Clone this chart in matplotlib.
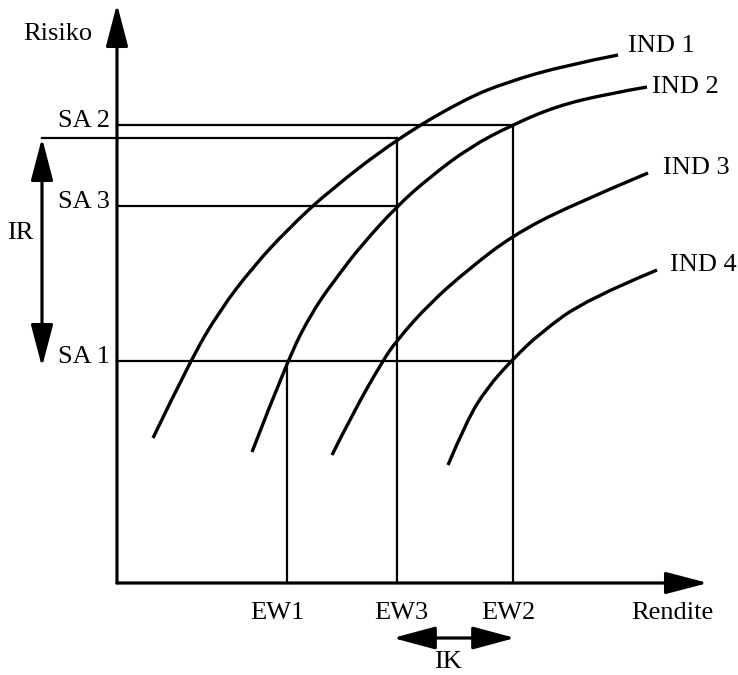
import matplotlib
matplotlib.use("Agg")
import matplotlib.pyplot as plt
from matplotlib.path import Path
from matplotlib.patches import PathPatch
import numpy as np

plt.rcParams['font.family'] = ['Liberation Serif', 'DejaVu Serif']

# Indifference curves (Rendite, Risiko)
ind1_x = [36, 73, 103, 136, 170, 213, 280, 346, 390, 450, 501]
ind1_y = [145, 222, 273, 316, 353, 393, 444, 483, 501, 518, 528]
ind2_x = [135, 170, 196, 223, 243, 280, 313, 353, 395, 440, 490, 530]
ind2_y = [131, 222, 273, 310, 336, 377, 406, 436, 458, 477, 489, 496]
ind3_x = [215, 236, 265, 280, 313, 353, 395, 450, 531]
ind3_y = [128, 170, 221, 243, 280, 315, 347, 376, 410]
ind4_x = [331, 350, 370, 395, 423, 470, 540]
ind4_y = [118, 163, 195, 223, 250, 284, 313]
curve_labels = ["IND 1", "IND 2", "IND 3", "IND 4"]

# expected returns and risk levels
ew_labels = ["EW1", "EW3", "EW2"]
ew_values = [170, 280, 396]
sa_labels = ["SA 1", "SA 3", "SA 2"]
sa_values = [222, 377, 458]
ir_top = 445
x_max = 591
y_max = 579

fig = plt.figure(figsize=(7.38, 6.75), dpi=100)
ax = fig.add_axes([0, 0, 1, 1])
ax.set_xlim(-117, 621)
ax.set_ylim(-92, 583)
ax.axis('off')

k = 'black'
guide_lw = 1.6
curve_lw = 2.4
ax_lw = 2.3
fs = 19


def arrow(p0, p1, style='-|>', hl=2.6, hw=0.68):
    ax.annotate('', xy=p1, xytext=p0,
                arrowprops=dict(arrowstyle=f'{style},head_length={hl},head_width={hw}',
                                mutation_scale=10, lw=ax_lw, color=k,
                                shrinkA=0, shrinkB=0))


def smooth_curve(xs, ys):
    # quadratic spline path: read points act as control points
    pts = np.column_stack([xs, ys]).astype(float)
    verts = [pts[0]]
    codes = [Path.MOVETO]
    for i in range(1, len(pts) - 2):
        verts += [pts[i], (pts[i] + pts[i + 1]) / 2]
        codes += [Path.CURVE3, Path.CURVE3]
    verts += [pts[-2], pts[-1]]
    codes += [Path.CURVE3, Path.CURVE3]
    ax.add_patch(PathPatch(Path(verts, codes), fill=False, lw=curve_lw,
                           edgecolor=k, capstyle='butt'))


# axes
arrow((0, 0), (0, y_max))
arrow((0, 0), (x_max, 0))

# guide lines
sa1, sa3, sa2 = sa_values
ew1, ew3, ew2 = ew_values
ax.plot([0, ew2], [sa2, sa2], color=k, lw=guide_lw)
ax.plot([-75, ew3], [ir_top, ir_top], color=k, lw=guide_lw)
ax.plot([0, ew3], [sa3, sa3], color=k, lw=guide_lw)
ax.plot([0, ew2], [sa1, sa1], color=k, lw=guide_lw)
ax.plot([ew1, ew1], [0, sa1], color=k, lw=guide_lw)
ax.plot([ew3, ew3], [0, ir_top], color=k, lw=guide_lw)
ax.plot([ew2, ew2], [0, sa2], color=k, lw=guide_lw)

# curves
curves = [(ind1_x, ind1_y), (ind2_x, ind2_y), (ind3_x, ind3_y), (ind4_x, ind4_y)]
label_off = [(10, 9), (5, 0), (15, 5), (13, 5)]
for (cx, cy), lab, (dx, dy) in zip(curves, curve_labels, label_off):
    smooth_curve(cx, cy)
    ax.text(cx[-1] + dx, cy[-1] + dy, lab, fontsize=fs, ha='left', va='center')

# IR and IK arrows
arrow((-75, 216), (-75, ir_top), '<|-|>')
arrow((276, -55), (398, -55), '<|-|>', hl=2.6, hw=0.7)

# texts
ax.text(-59, 549, "Risiko", fontsize=fs, ha='center', va='center')
ax.text(555, -30, "Rendite", fontsize=fs, ha='center', va='center')
for lab, v in zip(sa_labels, sa_values):
    ax.text(-7, v + 4, lab, fontsize=fs, ha='right', va='center')
for lab, v, dx in zip(ew_labels, ew_values, [-10, 4, -5]):
    ax.text(v + dx, -30, lab, fontsize=fs, ha='center', va='center')
ax.text(-97, 350, "IR", fontsize=fs, ha='center', va='center')
ax.text(331, -79, "IK", fontsize=fs, ha='center', va='center')

fig.savefig("out.png", dpi=100)
